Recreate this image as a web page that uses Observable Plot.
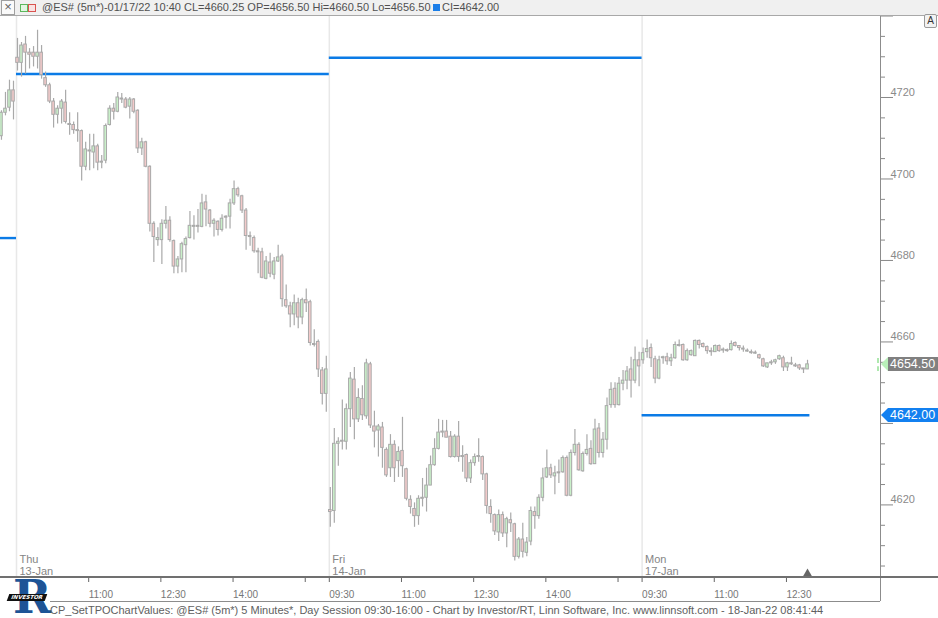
<!DOCTYPE html>
<html><head><meta charset="utf-8">
<script src="https://cdn.jsdelivr.net/npm/d3@7"></script>
<script src="https://cdn.jsdelivr.net/npm/@observablehq/plot@0.6"></script>
<style>
body{margin:0;background:#fff;}
#wrap{position:relative;width:938px;height:618px;overflow:hidden;background:#fff;font-family:'Liberation Sans',Arial,sans-serif;}
#chart{position:absolute;left:0;top:0;}
.abs{position:absolute;}
#hdr{position:absolute;left:0;top:0;width:938px;height:15px;background:#f0f0f0;border-bottom:1px solid #a8a8a8;z-index:5;}
</style></head>
<body>
<div id="wrap">
  <div id="chart"></div>
  <div id="hdr">
    <div class="abs" style="left:1px;top:0px;width:12px;height:13px;border:1px solid #a0a0a0;background:#fafafa;color:#666;font-size:13px;line-height:12px;text-align:center;">×</div>
    <div class="abs" style="left:20px;top:4px;width:6px;height:6px;border:1px solid #5cb85c;background:#e2f6e2;"></div>
    <div class="abs" style="left:28px;top:4px;width:6px;height:6px;border:1px solid #d9534f;background:#f9e2e2;"></div>
    <div class="abs" id="hdrText" style="left:42px;top:1px;font-size:11px;line-height:13px;color:#505050;white-space:nowrap;"></div>
    <div class="abs" style="left:433px;top:4px;width:7px;height:7px;background:#1a7ee8;"></div>
    <div class="abs" id="ciText" style="left:442px;top:1px;font-size:11px;line-height:13px;color:#505050;white-space:nowrap;"></div>
  </div>
  <div class="abs" style="left:924px;top:14px;width:11px;height:12px;border:1px solid #9a9a9a;border-radius:2px;background:#f2f2f2;font-size:10px;line-height:12px;text-align:center;color:#333;z-index:6;">A</div>
  <div class="abs" style="left:880px;top:15px;width:1px;height:586px;background:#8c8c8c;"></div>
  <div class="abs" style="left:0;top:576px;width:938px;height:2px;background:#707070;"></div>
  <div class="abs" style="left:50px;top:601px;width:830px;height:1px;background:#8c8c8c;"></div>
  <div class="abs" id="logo" style="left:6px;top:579px;width:42px;height:38px;">
    <div class="abs" style="left:7px;top:1px;height:34px;font:bold 46px/34px 'DejaVu Serif',serif;color:#1d5496;">R</div>
    <div class="abs" style="left:2px;top:15px;width:38px;height:7px;background:#111;transform:skewX(-20deg);font:bold 5.5px/7px 'DejaVu Sans',sans-serif;color:#fff;text-align:center;">INVESTOR</div>
  </div>
  <div class="abs" id="caption" style="left:50px;top:604px;font-size:11px;line-height:13px;color:#606060;white-space:nowrap;"></div>
</div>
<script>
// ---------------- data ----------------
const sessionNames = ["Wed", "Thu", "Fri", "Mon"];
const sessionDates = ["12-Jan", "13-Jan", "14-Jan", "17-Jan"];
const sessionFirstIdx = [-4, 0, 78, 156];   // bar index of each session's first shown bar
const sessionIsStart = [false, true, true, true];

// bars as [open, high, low, close]
const wedBars = [
[4710.5,4716.75,4709.5,4716.25],[4716.25,4721.25,4715.5,4717.25],[4717.5,4724.25,4716.5,4721.75],[4721.75,4724,4714.5,4719]
];
const thuBars = [
[4729.75,4734.5,4726.5,4728.5],[4728.5,4733.5,4725,4732.75],[4733,4735,4725.75,4731],[4731,4732,4727,4730.5],
[4731,4732.5,4727.5,4730],[4730,4736.5,4727,4731],[4731,4732.75,4724.5,4725.5],[4724.75,4726.25,4722.5,4723],
[4723,4723.5,4718.5,4719],[4719,4719.75,4712.5,4715.75],[4715.75,4718,4713.5,4717.25],[4717.25,4719.5,4713.5,4719],
[4718.75,4721.75,4713.5,4714],[4713.5,4716.25,4710.75,4713.25],[4713.25,4714,4711,4712],[4712,4716.25,4709,4711.75],
[4711.75,4712,4699.5,4703],[4703,4709,4702,4707.25],[4707,4711,4702,4706.75],[4706.5,4711,4702.5,4708],
[4708,4708.5,4702,4704],[4704,4705.75,4702.5,4704.25],[4704.5,4713.5,4703.75,4713],[4713.25,4718,4713,4717.25],
[4717.25,4718.5,4714.5,4716.5],[4716.5,4721.25,4716.25,4720],[4719.75,4721,4718.5,4719.5],[4719.5,4720,4717.25,4717.5],
[4717.75,4720,4714.75,4719.5],[4719.5,4719.75,4716,4716.5],[4716.75,4717,4706.25,4707.5],[4707.5,4710,4705.75,4709],
[4709,4709.25,4702.75,4703],[4703,4703.25,4687,4689],[4689,4689.5,4679.5,4685.75],[4685,4688,4683.5,4685.5],
[4685,4690,4679,4689],[4689,4693.25,4687.75,4689.75],[4689.75,4690.75,4684.5,4685],[4684.75,4685,4676.75,4678.5],
[4678.5,4681,4676.75,4680.25],[4680.25,4684.5,4677,4684],[4683.75,4685.75,4677,4685.25],[4685.5,4692,4685.25,4688.5],
[4688.25,4691,4685,4688.5],[4688.5,4692.5,4686.75,4688.25],[4688.25,4696.25,4688,4694],[4694.25,4696,4688.25,4692.5],
[4692.25,4692.5,4688,4689],[4689,4690.25,4685.75,4689.75],[4689.5,4689.75,4686,4687.5],[4687.5,4691.25,4687,4690.25],
[4690.75,4691,4687.75,4690.5],[4690.75,4695,4687.75,4694],[4694,4699.5,4693.5,4697.5],[4697.5,4698,4695.5,4696],
[4695.75,4696,4691.5,4692.25],[4692.25,4692.75,4682.5,4686],[4686,4687,4683.5,4685.75],[4685.5,4686,4681.75,4682.25],
[4682.25,4683,4676.75,4682],[4682,4683,4675.5,4675.75],[4675.5,4681,4675.25,4679.75],[4679.5,4681.75,4675.75,4676.75],
[4676.5,4680.75,4675.25,4679.75],[4679.75,4683.75,4679.5,4680.75],[4681,4681.5,4668.5,4670.5],[4670.25,4674,4668.25,4668.75],
[4668.75,4669.75,4663.5,4666.75],[4666.75,4671.5,4664,4669.5],[4669.5,4670.75,4663.25,4666],[4666,4670.75,4664.25,4670.25],
[4670.25,4673,4667.25,4669.5],[4669.75,4670.25,4659,4659.75],[4659.5,4663,4658.75,4659.25],[4660,4660.5,4651.25,4653.25],
[4653,4653.75,4644.5,4647.25],[4647.25,4656.5,4642.75,4653.25]
];
const friBars = [
[4618.75,4624.25,4614.5,4618.25],[4618.5,4638.75,4615.5,4635],[4635,4636.5,4629.5,4635.5],[4635.75,4645.75,4633.5,4635.5],
[4635.5,4644.75,4633.5,4643.5],[4643.5,4652.5,4639,4651],[4650.75,4653.75,4636,4641],[4641,4648.5,4640.25,4646.25],
[4646,4649.25,4640.75,4642],[4641.75,4655.75,4641,4654.75],[4654.5,4655,4638.75,4639.5],[4639.25,4643,4634,4638],
[4638.25,4639.75,4631.75,4639.25],[4639,4640.25,4629,4634],[4633.5,4634,4626.75,4627.25],[4629,4637.25,4626.75,4634.75],
[4634.75,4635.75,4625.5,4629],[4630.75,4634.25,4626.75,4633],[4633.25,4641.5,4626.75,4629.5],[4628.75,4629,4621,4621.5],
[4621.25,4622.25,4617.75,4619.5],[4619,4620.5,4614.5,4617.25],[4617.25,4622.25,4615,4621.5],[4621.75,4626.5,4619.5,4621.5],
[4621.75,4629,4618.25,4624.75],[4624.75,4632,4624.75,4629.75],[4629.75,4636.25,4629.5,4633.75],[4633.75,4641,4633.5,4637.75],
[4638,4640.75,4636.5,4637.75],[4638,4640.75,4636.5,4636.5],[4636.75,4638,4631.5,4631.75],[4631.75,4637.25,4631.5,4636.75],
[4636.75,4640.5,4630.5,4631.75],[4632,4634.5,4628,4631.75],[4632.25,4632.5,4625.5,4626.5],[4626.5,4631,4625.25,4630.25],
[4630.25,4632.5,4629.5,4631.75],[4632,4636.25,4630.5,4631.75],[4631.75,4632,4626,4627.5],[4627.5,4627.75,4617.75,4619.75],
[4619.5,4621.25,4615.5,4617.75],[4617.5,4617.75,4612.5,4613.5],[4613.25,4618.75,4611,4617.5],[4617.5,4618.25,4612,4613],
[4613,4617,4609.5,4616.5],[4616.25,4618,4613.25,4615.5],[4615.25,4615.5,4606.25,4607.25],[4607.25,4612,4606.75,4611.5],
[4611.5,4615.5,4607,4608.5],[4608.25,4612,4607.25,4610.75],[4611,4619.5,4610,4618.5],[4618.25,4619.5,4614,4617.25],
[4617.25,4622.5,4616.5,4621.75],[4621.75,4629,4620.75,4626.5],[4626.75,4633.5,4626.5,4629],[4629,4630,4626.5,4627.25],
[4627,4629.5,4622.5,4627.75],[4628,4631,4625.25,4627.75],[4628,4632,4627.75,4631.5],[4631.5,4632,4622,4622.25],
[4622.25,4633.5,4622,4632.75],[4632.75,4638.5,4632,4634.75],[4634.75,4635.25,4628.25,4628.5],[4628.25,4633,4628,4632.5],
[4632.5,4637.25,4632,4633.5],[4633.75,4635.75,4629.75,4630],[4630,4641,4630,4638.5],[4638.75,4640,4631.5,4632.75],
[4632.75,4637.75,4631.5,4636],[4636,4646.25,4633.5,4644.25],[4644.5,4650,4643.75,4648.25],[4648.5,4650,4643.75,4644.5],
[4644.5,4651.25,4644.25,4649.75],[4649.75,4653,4648,4650.5],[4650.5,4654,4648.25,4652.75],[4653.25,4656.25,4646.25,4650.5],
[4650.5,4658.75,4649.75,4655.5],[4655.5,4657.5,4649,4654]
];
const monBars = [
[4655.5,4658.5,4654.5,4657.25],[4657.5,4660.5,4656,4658.25],[4658.5,4659.5,4653.75,4656],[4655.75,4656.5,4649.75,4651],
[4651,4656.5,4650.75,4655.5],[4656,4656.5,4654.5,4656.25],[4656.25,4657.25,4654.25,4655.25],[4655.25,4657,4654,4656],
[4656,4660,4655.75,4659.25],[4659,4660.5,4658.75,4659.25],[4659.25,4659.5,4655.25,4655.5],[4655.5,4658.25,4655.25,4657.75],
[4656.75,4658,4656.5,4657.75],[4656.5,4660.5,4656.5,4660.25],[4660.25,4660.5,4658.25,4659.25],[4659.5,4659.75,4658.5,4658.75],
[4658.75,4659,4657,4657.75],[4657.75,4658.5,4656.5,4657.5],[4657.5,4659.25,4657.5,4659],[4659,4659.25,4657.5,4657.75],
[4658,4658.5,4657.25,4658],[4658,4658.25,4657.5,4657.75],[4658,4660.25,4657.75,4659.5],[4659.75,4660,4658.75,4659],
[4659,4659,4657.75,4658.5],[4658.25,4659,4657.5,4658.25],[4657.75,4658.25,4657.5,4657.75],[4657.5,4658,4657,4657.25],
[4657.25,4657.75,4657,4657.25],[4656.75,4657,4655.75,4656],[4655.75,4656,4653.75,4654],[4653.75,4654.75,4653.5,4654.75],
[4654.75,4655.5,4654.25,4655],[4655,4655.75,4654.5,4655.5],[4655.75,4656.75,4655.5,4656.5],[4656,4656.5,4652.75,4653.75],
[4653.75,4655,4652.75,4654.75],[4654.75,4656.25,4654.25,4654.5],[4654.25,4654.75,4653.75,4654],[4654.25,4654.5,4653,4653.5],
[4653.5,4653.5,4652.25,4653.25],[4653.25,4655.5,4653.25,4654.5]
];
// per-session TPO value lines (blue)
const tpoLevels = [4685.5, 4725.75, 4729.75, 4642];
// axis ticks
const priceMajor = [4620, 4640, 4660, 4680, 4700, 4720, 4740];
const timeTickSession = [1, 1, 1, 1, 2, 2, 2, 2, 2, 3, 3, 3];
const timeTickLabel = ["11:00","12:30","14:00","15:30","09:30","11:00","12:30","14:00","15:30","09:30","11:00","12:30"];
const timeTickShown = [true, true, true, false, true, true, true, true, false, true, true, true];
// texts
const headerText = "@ES# (5m*)-01/17/22 10:40 CL=4660.25 OP=4656.50 Hi=4660.50 Lo=4656.50";
const ciText = "CI=4642.00";
const captionText = "CP_SetTPOChartValues: @ES# (5m*) 5 Minutes*, Day Session 09:30-16:00 - Chart by Investor/RT, Linn Software, Inc. www.linnsoft.com - 18-Jan-22 08:41:44";

// ---------------- build ----------------
const FONT = "'Liberation Sans', Arial, sans-serif";
const BLUE = "#0b7be6";
const GREEN = "#c9f0c9";
const PINK = "#f3caca";
const EDGE = "#a9a9a9";
const allBars = [wedBars, thuBars, friBars, monBars];
const rows = [];
allBars.forEach((bars, s) => bars.forEach((b, j) => {
  const [o, h, l, c] = b;
  let top = Math.max(o, c), bot = Math.min(o, c);
  if (top - bot < 0.2) { const m = (top + bot) / 2; top = m + 0.12; bot = m - 0.12; }
  rows.push({i: sessionFirstIdx[s] + j, o, h, l, c, top, bot});
}));
const lastIdx = rows[rows.length - 1].i;
const xDomain = [-4.24, 215.2];
const yDomain = [4602.43, 4739.88];
const sepIdx = sessionFirstIdx.filter((d, s) => sessionIsStart[s]).map(d => d - 0.25);
const levelRows = tpoLevels.map((v, s) => ({
  v,
  x1: s === 0 ? xDomain[0] : sessionFirstIdx[s] - 0.25,
  x2: s < tpoLevels.length - 1 ? sessionFirstIdx[s + 1] - 0.25 : lastIdx + 0.6
}));
const sessionLabels = sessionNames.map((n, s) => ({i: sessionFirstIdx[s] - 0.25, label: n + "\n" + sessionDates[s], show: sessionIsStart[s]})).filter(d => d.show);
const tickIdx = timeTickLabel.map((t, k) => {
  const [hh, mm] = t.split(":").map(Number);
  return sessionFirstIdx[timeTickSession[k]] - 0.25 + ((hh * 60 + mm) - (9 * 60 + 30)) / 5;
});
const tickText = new Map(tickIdx.map((x, k) => [x, timeTickShown[k] ? timeTickLabel[k] : ""]));
const priceMinor = d3.range(4605, 4740, 5).filter(v => !priceMajor.includes(v));

const chart = Plot.plot({
  width: 938, height: 606,
  marginTop: 16, marginBottom: 30, marginLeft: 0, marginRight: 58,
  x: {domain: xDomain, axis: null},
  y: {domain: yDomain, axis: null},
  style: {fontFamily: FONT, fontSize: "11px", background: "transparent", color: "#777", overflow: "visible"},
  marks: [
    Plot.ruleX(sepIdx, {stroke: "#e8e8e8", strokeWidth: 1.5}),
    Plot.ruleY(levelRows, {y: "v", x1: "x1", x2: "x2", stroke: BLUE, strokeWidth: 2.4}),
    Plot.ruleX(rows, {x: "i", y1: "l", y2: "h", stroke: EDGE, strokeWidth: 1.2}),
    Plot.rect(rows, {x1: d => d.i - 0.32, x2: d => d.i + 0.32, y1: "bot", y2: "top",
      fill: d => d.c >= d.o ? GREEN : PINK, stroke: EDGE, strokeWidth: 1}),
    Plot.text(sessionLabels, {x: "i", text: "label", frameAnchor: "bottom", textAnchor: "start",
      lineAnchor: "bottom", dx: 3, dy: -2, fill: "#858585", fontSize: 11, lineHeight: 1.05}),
    Plot.axisX(tickIdx, {anchor: "bottom", tickSize: 6, tickPadding: 8, tickFormat: d => tickText.get(d),
      textAnchor: "start", dx: 0, fontSize: 10, stroke: "#666", fill: "#777"}),
    Plot.axisY(priceMinor, {anchor: "right", tickSize: 4, tickFormat: () => "", stroke: "#888"}),
    Plot.axisY(priceMajor, {anchor: "right", tickSize: 12, tickFormat: () => "", stroke: "#888"}),
    Plot.text(priceMajor, {y: d => d, text: d => String(d), frameAnchor: "right", textAnchor: "start",
      dx: 10, dy: -5, fill: "#8a8a8a", fontSize: 11}),
    Plot.dot([lastIdx], {x: d => d, frameAnchor: "bottom", symbol: "triangle", r: 3.2, fill: "#666", stroke: "none", dy: -3})
  ]
});
document.getElementById("chart").appendChild(chart);
document.getElementById("hdrText").textContent = headerText;
document.getElementById("ciText").textContent = ciText;
document.getElementById("caption").textContent = captionText;

// price markers on the right axis, placed through the chart's y scale
const yS = chart.scale("y");
const wrap = document.getElementById("wrap");
const lastClose = monBars[monBars.length - 1][3];
function marker(value, color, arrowColor) {
  const y = Math.round(yS.apply(value));
  const arrow = document.createElement("div");
  arrow.className = "abs";
  arrow.style.cssText = `left:881px;top:${y - 7}px;width:0;height:0;border-top:7px solid transparent;border-bottom:7px solid transparent;border-right:7px solid ${arrowColor};z-index:3;`;
  const box = document.createElement("div");
  box.className = "abs";
  box.style.cssText = `left:888px;top:${y - 7}px;width:50px;height:14px;background:${color};color:#fff;font-size:12.5px;line-height:14px;padding-left:2px;box-sizing:border-box;z-index:3;white-space:nowrap;`;
  box.textContent = value.toFixed(2);
  wrap.appendChild(arrow); wrap.appendChild(box);
}
marker(lastClose, "#808080", "#b9efb9");
marker(tpoLevels[3], "#1380f0", "#1380f0");
// small green dashes left of the last-price marker
{
  const y = Math.round(yS.apply(lastClose));
  const g = document.createElement("div");
  g.className = "abs";
  g.style.cssText = `left:877px;top:${y - 6}px;width:0;height:13px;border-left:2px dashed #aee8ae;`;
  wrap.appendChild(g);
}
</script>
</body></html>
